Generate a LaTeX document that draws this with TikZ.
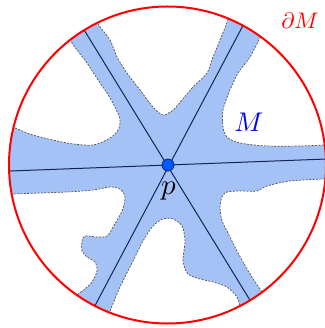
\documentclass[tikz,border=0pt]{standalone}
\definecolor{mblue}{RGB}{164,194,246}
\definecolor{dashgray}{RGB}{80,80,80}
\definecolor{navy}{RGB}{20,35,90}
\definecolor{dotblue}{RGB}{0,90,255}
\definecolor{lblblue}{RGB}{0,0,235}
\definecolor{bred}{RGB}{255,0,0}
\begin{document}
\begin{tikzpicture}[x=1pt,y=-1pt,
  rim/.style={draw=dashgray, line width=0.7pt, dash pattern=on 2pt off 1.4pt},
  axisline/.style={draw=navy, line width=1pt},
  lbl/.style={inner sep=0pt, anchor=base},
  dot/.style={circle, fill=dotblue, draw=navy, line width=0.8pt, minimum size=12pt, inner sep=0pt}]
\useasboundingbox (0,0) rectangle (324,328);
\coordinate (c) at (167.5,165);
\coordinate (p) at (168,165);
\coordinate (h1) at (0,171.4);
\coordinate (h2) at (335,158.7);
\coordinate (d1) at (78,20);
\coordinate (d2) at (256,310);
\coordinate (e1) at (248,16);
\coordinate (e2) at (89,317);
\begin{scope}
\clip (c) circle [radius=158.5pt];
\fill[mblue] (c) circle [radius=158.5pt];
% hole A
\fill[white] plot[smooth] coordinates {(2,124) (15,128) (33,135) (67,143) (93,145) (110,138) (118,130) (120,120) (115,107) (107,93) (100,83) (87,63) (77,50) (72,43) (66,33)} -- (0,0) -- cycle;
\draw[rim] plot[smooth] coordinates {(2,124) (15,128) (33,135) (67,143) (93,145) (110,138) (118,130) (120,120) (115,107) (107,93) (100,83) (87,63) (77,50) (72,43) (66,33)};
% hole B
\fill[white] plot[smooth] coordinates {(94,14) (98,24) (110,40) (117,57) (127,73) (140,90) (153,107) (163,115) (173,110) (182,100) (193,87) (207,73) (213,57) (220,40) (228,20) (231,10)} -- (240,-5) -- (90,-5) -- cycle;
\draw[rim] plot[smooth] coordinates {(94,14) (98,24) (110,40) (117,57) (127,73) (140,90) (153,107) (163,115) (173,110) (182,100) (193,87) (207,73) (213,57) (220,40) (228,20) (231,10)};
% hole C
\fill[white] plot[smooth] coordinates {(266,28) (260,38) (250,57) (238,73) (230,90) (223,110) (223,127) (227,137) (240,143) (267,146) (300,146) (323,145) (335,144)} -- (340,20) -- cycle;
\draw[rim] plot[smooth] coordinates {(266,28) (260,38) (250,57) (238,73) (230,90) (223,110) (223,127) (227,137) (240,143) (267,146) (300,146) (323,145) (335,144)};
% hole D
\fill[white] plot[smooth] coordinates {(335,179) (323,179) (290,181) (267,186) (257,191) (240,191) (227,192) (222,197) (220,207) (222,221) (227,231) (237,251) (250,274) (262,292) (268,301)} -- (340,310) -- cycle;
\draw[rim] plot[smooth] coordinates {(335,179) (323,179) (290,181) (267,186) (257,191) (240,191) (227,192) (222,197) (220,207) (222,221) (227,231) (237,251) (250,274) (262,292) (268,301)};
% hole E
\fill[white] plot[smooth] coordinates {(243,315) (240,306) (237,297) (227,287) (213,282) (200,279) (188,274) (183,261) (185,241) (182,226) (173,219) (163,219) (153,226) (143,241) (133,261) (120,287) (110,311) (106,320)} -- (100,340) -- (250,340) -- cycle;
\draw[rim] plot[smooth] coordinates {(243,315) (240,306) (237,297) (227,287) (213,282) (200,279) (188,274) (183,261) (185,241) (182,226) (173,219) (163,219) (153,226) (143,241) (133,261) (120,287) (110,311) (106,320)};
% hole F
\fill[white] plot[smooth] coordinates {(0,194) (13,194) (40,193) (67,192) (93,190) (110,187) (120,189) (125,197) (122,211) (113,227) (107,236) (97,237) (85,236) (82,241) (82,251) (87,257) (95,262) (97,271) (92,282) (85,289) (78,294) (72,302)} -- (0,330) -- cycle;
\draw[rim] plot[smooth] coordinates {(0,194) (13,194) (40,193) (67,192) (93,190) (110,187) (120,189) (125,197) (122,211) (113,227) (107,236) (97,237) (85,236) (82,241) (82,251) (87,257) (95,262) (97,271) (92,282) (85,289) (78,294) (72,302)};
\draw[axisline] (h1) -- (h2);
\draw[axisline] (d1) -- (d2);
\draw[axisline] (e1) -- (e2);
\end{scope}
\draw[bred, line width=2pt] (c) circle [radius=158.5pt];
\node[dot] (pd) at (p) {};
\node[lbl, text=bred, scale=2.25] (dM) at (300,29) {$\partial M$};
\node[lbl, text=lblblue, scale=2.7] (M) at (249,132) {$M$};
\node[lbl, scale=2.9] (pl) at (168.5,194) {$p$};
\end{tikzpicture}
\end{document}
